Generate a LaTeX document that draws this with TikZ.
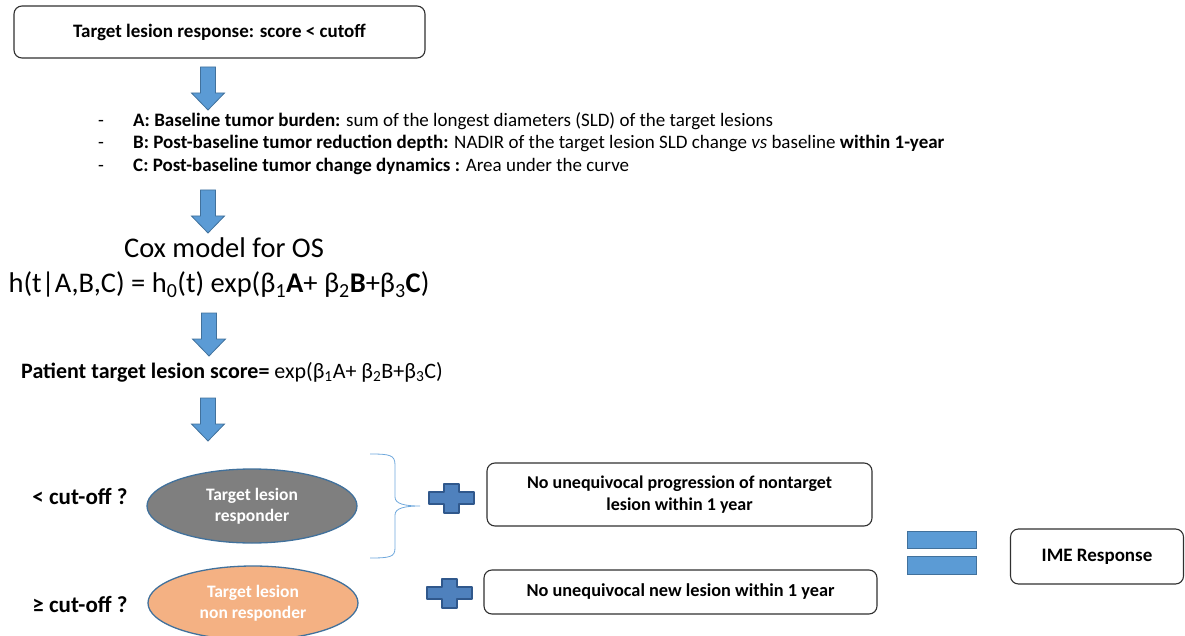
\documentclass[tikz,border=0pt]{standalone}
\usepackage{fontspec}
\setmainfont{Carlito}
\usetikzlibrary{shapes.geometric}
\definecolor{arrowfill}{HTML}{5B9BD5}
\definecolor{arrowline}{HTML}{41719C}
\definecolor{plusfill}{HTML}{4F81BD}
\definecolor{plusline}{HTML}{30588C}
\definecolor{grayfill}{HTML}{7F7F7F}
\definecolor{orangefill}{HTML}{F4B183}
\definecolor{boxline}{HTML}{303030}
\definecolor{bracecol}{HTML}{6FA8DC}
\tikzset{
  rbox/.style={draw=boxline, line width=1.1pt, rounded corners=8pt, fill=white, align=center, font=\bfseries\fontsize{18}{22}\selectfont, inner sep=0pt},
  oval/.style={ellipse, draw=arrowline, line width=1.3pt, minimum width=210pt, minimum height=74pt, inner sep=0pt, align=center, text=white, font=\bfseries\fontsize{17.5}{21}\selectfont},
  arrowsty/.style={draw=arrowline, fill=arrowfill, line width=0.8pt},
  plussty/.style={draw=plusline, fill=plusfill, line width=2pt, line join=round},
  eqsty/.style={draw=arrowline, fill=arrowfill, line width=0.8pt},
  bullet/.style={anchor=base west, inner sep=0pt, font=\fontsize{19}{22}\selectfont},
  pics/blockarrow/.style={code={\draw[arrowsty] (-7.5,0) -- (7.5,0) -- (7.5,26) -- (16.5,26) -- (0,43) -- (-16.5,26) -- (-7.5,26) -- cycle;}},
  pics/plussign/.style={code={\draw[plussty] (-22.5,-6) -- (-7.5,-6) -- (-7.5,-14.5) -- (7.5,-14.5) -- (7.5,-6) -- (22.5,-6) -- (22.5,6) -- (7.5,6) -- (7.5,14.5) -- (-7.5,14.5) -- (-7.5,6) -- (-22.5,6) -- cycle;}}
}
\begin{document}
\begin{tikzpicture}[x=1pt,y=-1pt]
\useasboundingbox (0,0) rectangle (1185,636);
% top box
\node[rbox, minimum width=411pt, minimum height=52pt, font=\bfseries\fontsize{19}{22}\selectfont] (top) at (219.5,32) {Target lesion response: score < cutoff};
\pic at (208,67) {blockarrow};
% bullets
\node[bullet] (d1) at (98,127) {-};
\node[bullet] (d2) at (98,149) {-};
\node[bullet] (d3) at (98,172) {-};
\node[bullet] (l1) at (133,127) {\textbf{A: Baseline tumor burden:} sum of the longest diameters (SLD) of the target lesions};
\node[bullet] (l2) at (133,149) {\textbf{B: Post-baseline tumor reduction depth:} NADIR of the target lesion SLD change \textit{vs} baseline \textbf{within 1-year}};
\node[bullet] (l3) at (133,172) {\textbf{C: Post-baseline tumor change dynamics :} Area under the curve};
\pic at (208,190) {blockarrow};
% cox
\node[inner sep=0pt, font=\fontsize{28.5}{32}\selectfont] (cox) at (224,248) {Cox model for OS};
\node[inner sep=0pt, font=\fontsize{28.5}{32}\selectfont] (formula) at (219,285) {h(t|A,B,C) = h\textsubscript{0}(t) exp(β\textsubscript{1}\textbf{A}+ β\textsubscript{2}\textbf{B}+β\textsubscript{3}\textbf{C})};
\pic at (209,313) {blockarrow};
\node[inner sep=0pt, font=\fontsize{22}{26}\selectfont] (score) at (232,372) {\textbf{Patient target lesion score=} exp(β\textsubscript{1}A+ β\textsubscript{2}B+β\textsubscript{3}C)};
\pic at (208,398) {blockarrow};
% cut-off labels
\node[inner sep=0pt, font=\bfseries\fontsize{23}{26}\selectfont] (lt) at (80,496) {< cut-off ?};
\node[inner sep=0pt, font=\bfseries\fontsize{23}{26}\selectfont] (ge) at (80,604) {≥ cut-off ?};
% ellipses
\node[oval, fill=grayfill] (resp) at (252,506) {Target lesion\\responder};
\node[oval, fill=orangefill] (nonresp) at (253,603) {Target lesion\\non responder};
% brace
\draw[bracecol, line width=0.8pt] (370,454) .. controls (390,454) and (395,455) .. (395,465) -- (395,497) .. controls (395,504) and (405,506) .. (420,506) .. controls (405,506) and (395,508) .. (395,515) -- (395,548) .. controls (395,557) and (390,558) .. (370,558);
% plus signs
\pic at (451,498) {plussign};
\pic at (449,593) {plussign};
% right boxes
\node[rbox, minimum width=385pt, minimum height=63pt] (nontarget) at (679.5,494.5) {No unequivocal progression of nontarget\\lesion within 1 year};
\node[rbox, minimum width=393pt, minimum height=44pt, font=\bfseries\fontsize{18.3}{22}\selectfont] (newles) at (680.5,592) {No unequivocal new lesion within 1 year};
% equals
\draw[eqsty] (907,531) rectangle (976,548);
\draw[eqsty] (907,556) rectangle (976,574);
\node[rbox, minimum width=173pt, minimum height=55pt, font=\bfseries\fontsize{19}{22}\selectfont] (ime) at (1097,556.5) {IME Response};
\end{tikzpicture}
\end{document}
